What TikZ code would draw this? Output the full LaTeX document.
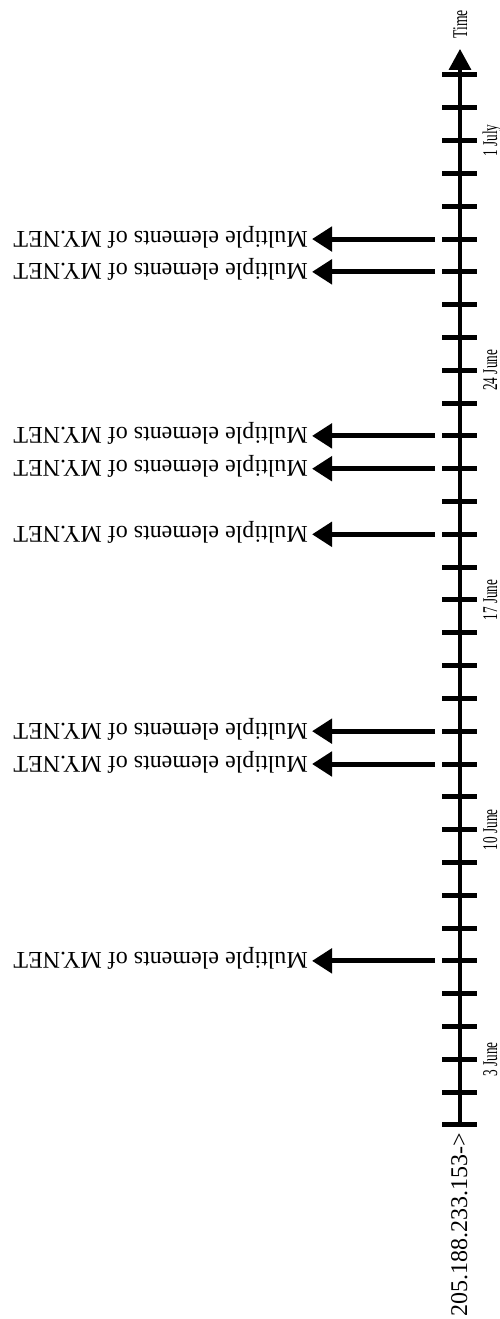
\documentclass[tikz,border=0pt]{standalone}
\usepackage{fontspec}
\setmainfont{Liberation Serif}
\usetikzlibrary{arrows.meta}
\begin{document}
\begin{tikzpicture}[x=1pt,y=1pt,
  axisline/.style={line width=3.5pt,-{Triangle[length=21pt,width=22pt]}},
  tickmark/.style={line width=5pt},
  evarrow/.style={line width=5pt,-{Triangle[length=20pt,width=24pt]},shorten >=4pt},
  evlabel/.style={rotate=180,anchor=base west,inner sep=0pt,font=\fontsize{24}{28}\selectfont},
  datelabel/.style={rotate=90,anchor=base,inner sep=0pt,font=\fontsize{21}{24}\selectfont},
  iplabel/.style={rotate=90,anchor=base east,inner sep=0pt,font=\fontsize{24}{28}\selectfont},
]
\useasboundingbox (0,0) rectangle (499,1319);
% axis
\coordinate (axb) at (460,193);
\coordinate (axt) at (460,1270);
\draw[axisline] (axb) -- (axt);
% ticks
\foreach \k in {0,...,32}
  \draw[tickmark] (442,{1244-32.81*\k}) -- (477,{1244-32.81*\k});
% events
\foreach \k [count=\i] in {5,6,11,12,14,20,21,27} {
  \coordinate (e\i) at (435,{1244-32.81*\k});
  \node[evlabel] (l\i) at (308,{1244-32.81*\k+8}) {Multiple elements of MY.NET};
  \draw[evarrow] (e\i) -- (e\i -| l\i.west);
}
% dates
\node[datelabel] (d1) at (497,{1244-32.81*30}) {\scalebox{0.63}[1]{3 June}};
\node[datelabel] (d2) at (497,{1244-32.81*23}) {\scalebox{0.63}[1]{10 June}};
\node[datelabel] (d3) at (497,{1244-32.81*16}) {\scalebox{0.63}[1]{17 June}};
\node[datelabel] (d4) at (497,{1244-32.81*9}) {\scalebox{0.63}[1]{24 June}};
\node[datelabel] (d5) at (497,{1244-32.81*2}) {\scalebox{0.63}[1]{1 July}};
\node[datelabel] (time) at (467,1294.5) {\scalebox{0.65}[1]{Time}};
% source
\node[iplabel] (ip) at (467,186) {205.188.233.153->};
\end{tikzpicture}
\end{document}
